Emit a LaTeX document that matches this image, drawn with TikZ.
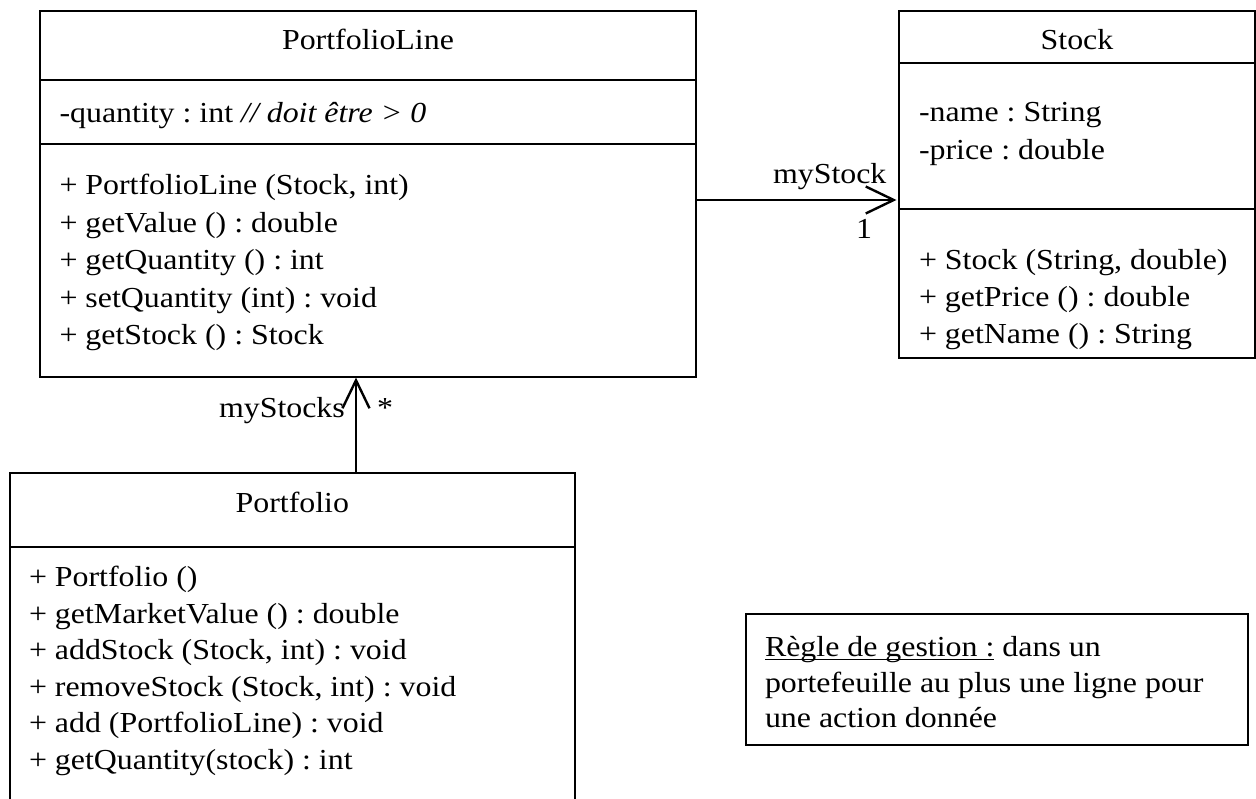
\documentclass[tikz,border=0pt]{standalone}
\usepackage{fontspec}
\setmainfont{Liberation Serif}[FakeStretch=1.10]
\usetikzlibrary{arrows.meta}
\frenchspacing
\newcommand\umlfont{\fontsize{29}{37.5}\selectfont\frenchspacing}
\tikzset{
  box/.style={draw, line width=1.8pt, inner sep=0pt, outer sep=0pt, anchor=north west},
  divider/.style={line width=1.8pt},
  txt/.style={inner sep=0pt, outer sep=0pt, anchor=base west, font=\umlfont},
  ttl/.style={inner sep=0pt, outer sep=0pt, anchor=base, font=\umlfont},
  assoc/.style={line width=2.4pt, -{Straight Barb[length=28pt,width=27pt,line width=2.4pt]}},
}
\begin{document}
\begin{tikzpicture}[x=1pt,y=-1pt]
\useasboundingbox (0,0) rectangle (1256,799);
\clip (0,0) rectangle (1256,799);

% ---------- PortfolioLine ----------
\node[box, minimum width=656pt, minimum height=366.3pt] (pl) at (40,10.7) {};
\draw[divider] (pl.west |- 0,80) -- (pl.east |- 0,80);
\draw[divider] (pl.west |- 0,144) -- (pl.east |- 0,144);
\node[ttl] (plt) at (368,50) {PortfolioLine};
\node[txt] (pla) at (59.5,122.5) {-quantity : int \textit{// doit être > 0}};
\node[txt] (plm1) at (59.5,195) {+ PortfolioLine (Stock, int)};
\node[txt] (plm2) at (59.5,232.5) {+ getValue () : double};
\node[txt] (plm3) at (59.5,270) {+ getQuantity () : int};
\node[txt] (plm4) at (59.5,307.5) {+ setQuantity (int) : void};
\node[txt] (plm5) at (59.5,345) {+ getStock () : Stock};

% ---------- Stock ----------
\node[box, minimum width=356pt, minimum height=347.3pt] (st) at (899,10.7) {};
\draw[divider] (st.west |- 0,63.3) -- (st.east |- 0,63.3);
\draw[divider] (st.west |- 0,209) -- (st.east |- 0,209);
\node[ttl] (stt) at (1077,50) {Stock};
\node[txt] (sta1) at (919,121.7) {-name : String};
\node[txt] (sta2) at (919,159.3) {-price : double};
\node[txt] (stm1) at (919,269.3) {+ Stock (String, double)};
\node[txt] (stm2) at (919,306.7) {+ getPrice () : double};
\node[txt] (stm3) at (919,344) {+ getName () : String};

% ---------- Portfolio ----------
\node[box, minimum width=565.4pt, minimum height=360pt] (pf) at (9.6,473) {};
\draw[divider] (pf.west |- 0,546.7) -- (pf.east |- 0,546.7);
\node[ttl] (pft) at (292.3,512.7) {Portfolio};
\node[txt] (pfm1) at (29,586.7) {+ Portfolio ()};
\node[txt] (pfm2) at (29,623) {+ getMarketValue () : double};
\node[txt] (pfm3) at (29,659.5) {+ addStock (Stock, int) : void};
\node[txt] (pfm4) at (29,696) {+ removeStock (Stock, int) : void};
\node[txt] (pfm5) at (29,732.7) {+ add (PortfolioLine) : void};
\node[txt] (pfm6) at (29,769) {+ getQuantity(stock) : int};

% ---------- Note ----------
\node[box, minimum width=502pt, minimum height=131pt] (note) at (746,614) {};
\node[txt] (n1a) at (765,656.7) {Règle de gestion :};
\draw[line width=1.5pt] ([yshift=-3pt]n1a.base west) -- ([yshift=-3pt]n1a.base east);
\node[txt, xshift=8pt] (n1b) at (n1a.base east) {dans un};
\node[txt] (n2) at (765,692) {portefeuille au plus une ligne pour};
\node[txt] (n3) at (765,727) {une action donnée};

% ---------- Associations ----------
\draw[assoc, shorten >=2.5pt] (pl.east |- 0,200) -- (st.west |- 0,200);
\node[txt] (lbl1) at (773,184) {myStock};
\node[txt] (lbl2) at (856,239) {1};
\draw[assoc, shorten >=0.5pt] (pf.north -| 356,0) -- (pl.south -| 356,0);
\node[txt] (lbl3) at (219,418) {myStocks};
\node[txt] (lbl4) at (377,418) {*};
\end{tikzpicture}
\end{document}
